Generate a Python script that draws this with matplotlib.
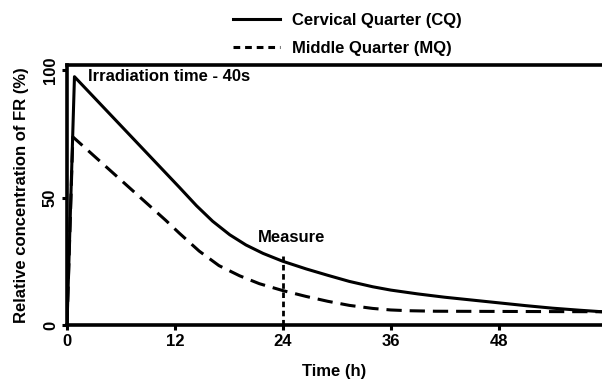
import matplotlib.pyplot as plt
from matplotlib.lines import Line2D

plt.rcParams['font.family'] = ['Liberation Sans', 'DejaVu Sans']
plt.rcParams['font.weight'] = 'bold'
plt.rcParams['axes.labelweight'] = 'bold'

# cervical quarter (CQ)
cq_time = [0, 0.83, 12.5, 14.4, 16.2, 18.1, 19.9, 21.8, 24, 26.6, 29, 31.4, 34, 36, 39, 42, 45, 48, 51, 54, 57, 59.5]
cq_conc = [0, 97.4, 54.0, 46.8, 40.7, 35.4, 31.4, 28.1, 25.0, 22.0, 19.5, 17.1, 15.0, 13.7, 12.2, 10.9, 9.8, 8.7, 7.6, 6.6, 5.8, 5.2]

# middle quarter (MQ)
mq_time = [0, 0.65, 11, 12.5, 14.7, 16.9, 19.2, 21.4, 24, 26.6, 29, 31.4, 34, 36, 38, 41, 59.5]
mq_conc = [0, 73.8, 41.0, 36.0, 29.0, 23.3, 19.3, 16.2, 13.5, 11.2, 9.3, 7.7, 6.5, 5.9, 5.6, 5.4, 5.2]

measure_time = 24
measure_top = 27
x_ticks = [0, 12, 24, 36, 48]
y_ticks = [0, 50, 100]

fig = plt.figure(figsize=(6.02, 3.81), dpi=100)
ax = fig.add_axes([67 / 602, 1 - 325 / 381, 1 - 67 / 602, (325 - 65) / 381])

ax.plot(cq_time, cq_conc, color='black', lw=2.2, solid_joinstyle='round')
ax.plot(mq_time, mq_conc, color='black', lw=2.2, linestyle=(0, (5, 2.6)))
ax.plot([measure_time, measure_time], [0, measure_top], color='black', lw=2.0, linestyle=(0, (2, 1.3)))

ax.text(measure_time + 1.0, measure_top + 4.5, "Measure", ha='center', va='bottom', fontsize=12)
ax.text(2.3, 97.3, "Irradiation time - 40s", ha='left', va='center', fontsize=12)

ax.set_xlim(0, 59.5)
ax.set_ylim(0, 102)
ax.set_xticks(x_ticks)
ax.set_yticks(y_ticks)
ax.tick_params(axis='both', width=2.2, length=3.5, labelsize=12, pad=3)
for lbl in ax.get_yticklabels():
    lbl.set_rotation(90)
    lbl.set_va('center')

for side in ['left', 'bottom', 'top']:
    ax.spines[side].set_linewidth(2.6)
ax.spines['right'].set_visible(False)

ax.set_xlabel("Time (h)", fontsize=12, fontweight='bold', labelpad=11)
ax.set_ylabel("Relative concentration of FR (%)", fontsize=12, fontweight='bold', labelpad=10)

handles = [Line2D([], [], color='black', lw=2.2),
           Line2D([], [], color='black', lw=2.2, linestyle=(0, (2.2, 1.6)))]
fig.legend(handles, ["Cervical Quarter (CQ)", "Middle Quarter (MQ)"],
           loc='upper left', bbox_to_anchor=(233 / 602, 1 - 13 / 381),
           frameon=False, handlelength=2.8, handletextpad=0.75,
           labelspacing=0.8, borderpad=0, borderaxespad=0,
           prop={'weight': 'bold', 'size': 12})

fig.savefig("out.png", dpi=100)
